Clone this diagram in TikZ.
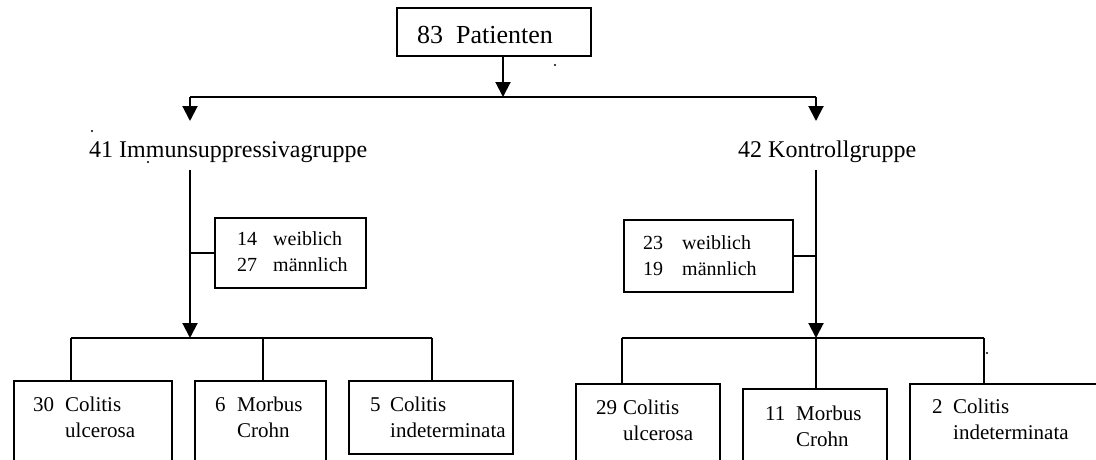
\documentclass[tikz,border=0pt]{standalone}
\usepackage{fontspec}
\setmainfont{Liberation Serif}
\usetikzlibrary{arrows.meta}
\begin{document}
\begin{tikzpicture}[x=1pt,y=-1pt,
  line/.style={line width=2pt},
  arr/.style={line width=2pt,-{Triangle[width=15pt,length=15pt]}},
  box/.style={draw,line width=2pt,rectangle,inner sep=0pt,anchor=north west},
  txt/.style={inner sep=0pt,anchor=base west},
  fTop/.style={font=\fontsize{26}{31}\selectfont},
  fGrp/.style={font=\fontsize{24}{29}\selectfont},
  fSex/.style={font=\fontsize{20}{26.5}\selectfont},
  fDia/.style={font=\fontsize{21}{26}\selectfont}
]
\useasboundingbox (0,0) rectangle (1096,459);
\clip (0,0) rectangle (1096,459);

% top
\node[box, minimum width=194pt, minimum height=48pt] (P) at (396,7) {};
\node[txt, fTop] (Pt) at (417,43) {83\ \ Patienten};
\coordinate (top) at (503,97);
\coordinate (tl) at (190,97);
\coordinate (tr) at (816,97);
\coordinate (tla) at (190,121);
\coordinate (tra) at (816,121);
\draw[arr] (P.south -| top) -- (top);
\draw[line] (tl) -- (tr);
\draw[arr] (tl) -- (tla);
\draw[arr] (tr) -- (tra);

% group labels
\node[txt, fGrp] (L) at (89,157) {41 Immunsuppressivagruppe};
\node[txt, fGrp] (R) at (738,157) {42 Kontrollgruppe};

% left branch
\coordinate (lv) at (190,170);
\coordinate (lb) at (190,338);
\draw[arr] (lv) -- (lb);
\node[box, minimum width=151pt, minimum height=70pt] (SL) at (214,217) {};
\draw[line] (SL.west) -- (SL.west -| lv);
\node[txt, fSex] (SLn) at (237,245) {\begin{tabular}[t]{@{}l@{}}14\\27\end{tabular}};
\node[txt, fSex] (SLw) at (273,245) {\begin{tabular}[t]{@{}l@{}}weiblich\\männlich\end{tabular}};

% right branch
\coordinate (rv) at (816,170);
\coordinate (rb) at (816,338);
\draw[arr] (rv) -- (rb);
\node[box, minimum width=169pt, minimum height=72pt] (SR) at (623,219) {};
\draw[line] (SR.east) -- (SR.east -| rv);
\node[txt, fSex] (SRn) at (643,249) {\begin{tabular}[t]{@{}l@{}}23\\19\end{tabular}};
\node[txt, fSex] (SRw) at (682,249) {\begin{tabular}[t]{@{}l@{}}weiblich\\männlich\end{tabular}};

% left bus and boxes
\coordinate (bl1) at (71,338);
\coordinate (bl2) at (263,338);
\coordinate (bl3) at (432,338);
\draw[line] (bl1) -- (bl3);
\node[box, minimum width=158pt, minimum height=95pt] (B1) at (13,380) {};
\node[box, minimum width=131pt, minimum height=95pt] (B2) at (194,380) {};
\node[box, minimum width=164pt, minimum height=73pt] (B3) at (348,380) {};
\draw[line] (bl1) -- (bl1 |- B1.north);
\draw[line] (bl2) -- (bl2 |- B2.north);
\draw[line] (bl3) -- (bl3 |- B3.north);
\node[txt, fDia] (B1n) at (33,411) {30};
\node[txt, fDia] (B1w) at (65,411) {\begin{tabular}[t]{@{}l@{}}Colitis\\ulcerosa\end{tabular}};
\node[txt, fDia] (B2n) at (215,411) {6};
\node[txt, fDia] (B2w) at (237,411) {\begin{tabular}[t]{@{}l@{}}Morbus\\Crohn\end{tabular}};
\node[txt, fDia] (B3n) at (370,411) {5};
\node[txt, fDia] (B3w) at (390,411) {\begin{tabular}[t]{@{}l@{}}Colitis\\indeterminata\end{tabular}};

% right bus and boxes
\coordinate (br1) at (622,338);
\coordinate (br2) at (816,338);
\coordinate (br3) at (984,338);
\draw[line] (br1) -- (br3);
\node[box, minimum width=144pt, minimum height=95pt] (B4) at (575,383) {};
\node[box, minimum width=144pt, minimum height=95pt] (B5) at (742,388) {};
\node[box, minimum width=200pt, minimum height=95pt] (B6) at (909,383) {};
\draw[line] (br1) -- (br1 |- B4.north);
\draw[line] (br2) -- (br2 |- B5.north);
\draw[line] (br3) -- (br3 |- B6.north);
\node[txt, fDia] (B4n) at (596,414) {29};
\node[txt, fDia] (B4w) at (623,414) {\begin{tabular}[t]{@{}l@{}}Colitis\\ulcerosa\end{tabular}};
\node[txt, fDia] (B5n) at (765,420) {11};
\node[txt, fDia] (B5w) at (796,420) {\begin{tabular}[t]{@{}l@{}}Morbus\\Crohn\end{tabular}};
\node[txt, fDia] (B6n) at (932,413) {2};
\node[txt, fDia] (B6w) at (953,413) {\begin{tabular}[t]{@{}l@{}}Colitis\\indeterminata\end{tabular}};

% stray dots
\fill (555,65) circle (1.2pt);
\fill (92,131) circle (1.2pt);
\fill (148,162) circle (1.2pt);
\fill (987,353) circle (1.2pt);
\end{tikzpicture}
\end{document}
